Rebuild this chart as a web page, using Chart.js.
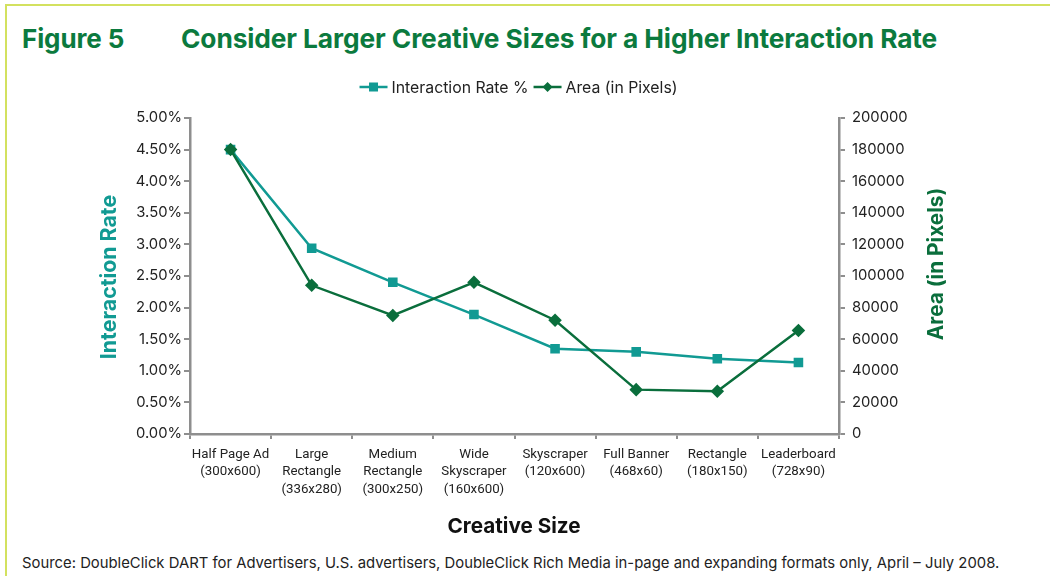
<!DOCTYPE html>
<html>
<head>
<meta charset="utf-8">
<script src="https://cdn.jsdelivr.net/npm/chart.js@4/dist/chart.umd.min.js"></script>
<style>
  html, body { margin: 0; padding: 0; background: #ffffff; }
  body { width: 1050px; height: 576px; position: relative; overflow: hidden; font-family: Inter, "Noto Sans", sans-serif; }
  .border-top { position: absolute; left: 5px; top: 4px; width: 1045px; height: 2px; background: #d3e15f; }
  .border-left { position: absolute; left: 5px; top: 4px; width: 2px; height: 572px; background: #d3e15f; }
  .fig { position: absolute; left: 22px; top: 23px; font-size: 26px; font-weight: 700; color: #0b7a3e; letter-spacing: -0.1px; }
  .title { position: absolute; left: 181px; top: 23px; font-size: 26.3px; font-weight: 700; color: #0b7a3e; letter-spacing: -0.1px; white-space: nowrap; }
  .source { position: absolute; left: 22px; top: 554px; font-size: 14.85px; color: #222; white-space: nowrap; }
  #wrap { position: absolute; left: 0; top: 0; width: 1050px; height: 576px; }
</style>
</head>
<body>
<div class="border-top"></div>
<div class="border-left"></div>
<div class="fig">Figure 5</div>
<div class="title">Consider Larger Creative Sizes for a Higher Interaction Rate</div>
<div class="source">Source: DoubleClick DART for Advertisers, U.S. advertisers, DoubleClick Rich Media in-page and expanding formats only, April – July 2008.</div>
<div id="wrap"><canvas id="c" width="1050" height="576"></canvas></div>
<script>
const categories = [
  ["Half Page Ad", "(300x600)"],
  ["Large", "Rectangle", "(336x280)"],
  ["Medium", "Rectangle", "(300x250)"],
  ["Wide", "Skyscraper", "(160x600)"],
  ["Skyscraper", "(120x600)"],
  ["Full Banner", "(468x60)"],
  ["Rectangle", "(180x150)"],
  ["Leaderboard", "(728x90)"]
];
const interactionRate = [4.50, 2.94, 2.40, 1.89, 1.35, 1.30, 1.19, 1.13];
const areaPixels = [180000, 94080, 75000, 96000, 72000, 28080, 27000, 65520];
const seriesNames = ["Interaction Rate %", "Area (in Pixels)"];
const leftTitle = "Interaction Rate";
const rightTitle = "Area (in Pixels)";
const xTitle = "Creative Size";

const TEAL = "#119a93";
const GREEN = "#0a6e3c";
const AXIS = "#8e8e8e";
const FONT = "Inter, 'Noto Sans', sans-serif";
const XFONT = "Roboto, 'Noto Sans', sans-serif";

const extras = {
  id: "extras",
  afterDraw(chart) {
    const ctx = chart.ctx;
    ctx.save();
    ctx.textAlign = "center";
    ctx.textBaseline = "middle";
    ctx.font = "700 21.3px " + FONT;
    ctx.fillStyle = TEAL;
    ctx.save();
    ctx.translate(110, 277);
    ctx.rotate(-Math.PI / 2);
    ctx.fillText(leftTitle, 0, 0);
    ctx.restore();
    ctx.font = "700 20.8px " + FONT;
    ctx.fillStyle = GREEN;
    ctx.save();
    ctx.translate(937, 264);
    ctx.rotate(-Math.PI / 2);
    ctx.fillText(rightTitle, 0, 0);
    ctx.restore();
    ctx.fillStyle = "#111";
    ctx.font = "700 20.7px " + FONT;
    ctx.fillText(xTitle, 514, 527);

    // Legend
    ctx.font = "15.8px " + FONT;
    ctx.textAlign = "left";
    const items = [
      { name: seriesNames[0], color: TEAL, style: "rect" },
      { name: seriesNames[1], color: GREEN, style: "rectRot" }
    ];
    const lineW = 28, gap = 4, itemGap = 5;
    let total = 0;
    items.forEach((it, i) => { it.w = ctx.measureText(it.name).width; total += lineW + gap + it.w + (i ? itemGap : 0); });
    let x = 518.5 - total / 2;
    const y = 87;
    items.forEach((it, i) => {
      if (i) x += itemGap;
      ctx.strokeStyle = it.color;
      ctx.lineWidth = 2.5;
      ctx.beginPath();
      ctx.moveTo(x, y);
      ctx.lineTo(x + lineW, y);
      ctx.stroke();
      ctx.fillStyle = it.color;
      const cx = x + lineW / 2;
      if (it.style === "rect") {
        ctx.fillRect(cx - 4.5, y - 4.5, 9, 9);
      } else {
        ctx.beginPath();
        ctx.moveTo(cx, y - 5); ctx.lineTo(cx + 5, y); ctx.lineTo(cx, y + 5); ctx.lineTo(cx - 5, y); ctx.closePath();
        ctx.fill();
      }
      x += lineW + gap;
      ctx.fillStyle = "#222";
      ctx.fillText(it.name, x, y + 1);
      x += it.w;
    });
    ctx.restore();
  }
};

new Chart(document.getElementById("c"), {
  type: "line",
  data: {
    labels: categories,
    datasets: [
      {
        label: seriesNames[0],
        data: interactionRate,
        yAxisID: "y",
        borderColor: TEAL,
        backgroundColor: TEAL,
        borderWidth: 2.5,
        pointStyle: "rect",
        pointRadius: 5,
        pointHoverRadius: 5,
        tension: 0,
        order: 2
      },
      {
        label: seriesNames[1],
        data: areaPixels,
        yAxisID: "y1",
        borderColor: GREEN,
        backgroundColor: GREEN,
        borderWidth: 2.5,
        pointStyle: "rectRot",
        pointRadius: 5,
        pointHoverRadius: 5,
        tension: 0,
        order: 1
      }
    ]
  },
  options: {
    responsive: false,
    animation: false,
    events: [],
    layout: { padding: { left: 0, right: 101, top: 118, bottom: 42 } },
    plugins: { legend: { display: false }, title: { display: false }, tooltip: { enabled: false } },
    scales: {
      x: {
        offset: true,
        afterFit(s) { s.height = 100; },
        grid: { offset: true, drawOnChartArea: false, drawTicks: true, tickLength: 5, color: AXIS, lineWidth: 2 },
        border: { color: AXIS, width: 2.5 },
        ticks: { color: "#222", font: { family: XFONT, size: 13.3, lineHeight: 1.3 }, padding: 7, maxRotation: 0, autoSkip: false }
      },
      y: {
        position: "left",
        min: 0, max: 5,
        afterFit(s) { s.width = 190; },
        grid: { drawOnChartArea: false, tickLength: 6, color: AXIS, lineWidth: 2 },
        border: { color: AXIS, width: 2.5 },
        ticks: { stepSize: 0.5, color: "#222", font: { family: FONT, size: 14.8 }, padding: 2,
          callback: v => v.toFixed(2) + "%" }
      },
      y1: {
        position: "right",
        min: 0, max: 200000,
        afterFit(s) { s.width = 110; },
        grid: { drawOnChartArea: false, tickLength: 6, color: AXIS, lineWidth: 2 },
        border: { color: AXIS, width: 2.5 },
        ticks: { stepSize: 20000, color: "#222", font: { family: FONT, size: 14.8 }, padding: 7,
          callback: v => String(v) }
      }
    }
  },
  plugins: [extras]
});
</script>
</body>
</html>
